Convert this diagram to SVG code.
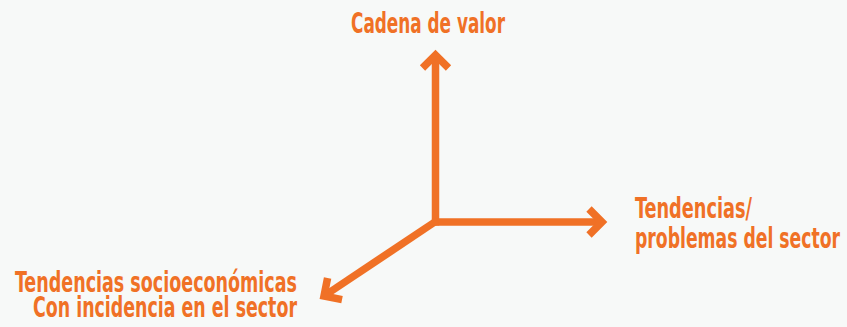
<svg xmlns="http://www.w3.org/2000/svg" width="847" height="327" viewBox="0 0 847 327">
  <style>
    .lbl { font-family: "DejaVu Sans Condensed", "DejaVu Sans", sans-serif; font-weight: bold; font-size: 29px; fill: #F07126; }
    .axis { stroke: #F07126; stroke-width: 7.5; fill: none; stroke-linecap: butt; }
  </style>
  <defs>
    <marker id="head" markerUnits="userSpaceOnUse" viewBox="-25 -25 40 50" markerWidth="40" markerHeight="50" refX="0" refY="0" orient="auto" overflow="visible">
      <path d="M-13,-13 L0,0 L-13,13" fill="none" stroke="#F07126" stroke-width="7.5" stroke-linejoin="miter" stroke-linecap="butt"/>
    </marker>
  </defs>
  <rect width="847" height="327" fill="#F7F9F8"/>
  <g id="connectors">
    <line class="axis" x1="435.5" y1="225.5" x2="435.5" y2="55" marker-end="url(#head)"/>
    <line class="axis" x1="432" y1="222" x2="602" y2="222" marker-end="url(#head)"/>
    <line class="axis" x1="437" y1="220.5" x2="324" y2="296" marker-end="url(#head)"/>
  </g>
  <g id="node-cadena">
    <text class="lbl" x="351" y="33" textLength="154" lengthAdjust="spacingAndGlyphs">Cadena de valor</text>
  </g>
  <g id="node-tendencias-sector">
    <text class="lbl" x="635" y="218" textLength="117" lengthAdjust="spacingAndGlyphs">Tendencias/</text>
    <text class="lbl" x="635" y="248" textLength="205" lengthAdjust="spacingAndGlyphs">problemas del sector</text>
  </g>
  <g id="node-socioeconomicas">
    <text class="lbl" x="15" y="292" textLength="282" lengthAdjust="spacingAndGlyphs">Tendencias socioeconómicas</text>
    <text class="lbl" x="33" y="317" textLength="264" lengthAdjust="spacingAndGlyphs">Con incidencia en el sector</text>
  </g>
</svg>
